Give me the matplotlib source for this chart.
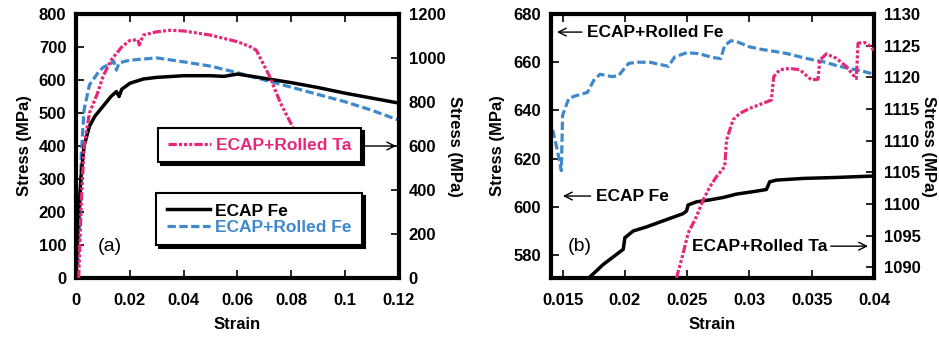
import matplotlib
matplotlib.use("Agg")
import matplotlib.pyplot as plt
from matplotlib.lines import Line2D

plt.rcParams['font.family'] = ['Liberation Sans', 'DejaVu Sans']
plt.rcParams['lines.scale_dashes'] = False

PINK = '#E5287A'
BLUE = '#3F88CB'

# ---------------- Panel (a) data ----------------
fe_a_strain = [0, 0.0005, 0.001, 0.002, 0.003, 0.005, 0.007, 0.010, 0.013, 0.015, 0.016, 0.017,
               0.020, 0.025, 0.030, 0.040, 0.050, 0.055, 0.060, 0.070, 0.080, 0.090, 0.100, 0.110, 0.120]
fe_a_stress = [0, 100, 200, 320, 400, 460, 490, 520, 550, 565, 550, 572,
               590, 603, 608, 613, 613, 611, 618, 605, 592, 577, 560, 545, 530]

rfe_a_strain = [0.0005, 0.0015, 0.002, 0.003, 0.005, 0.008, 0.010, 0.013, 0.014, 0.015, 0.016,
                0.020, 0.030, 0.040, 0.050, 0.060, 0.070, 0.080, 0.090, 0.100, 0.110, 0.120]
rfe_a_stress = [0, 200, 380, 509, 585, 620, 638, 650, 658, 630, 652,
                660, 667, 655, 642, 622, 600, 578, 556, 534, 508, 478]

ta_a_strain = [0.001, 0.0015, 0.002, 0.003, 0.005, 0.008, 0.010, 0.013, 0.017, 0.020, 0.023, 0.0235,
               0.025, 0.030, 0.035, 0.040, 0.050, 0.060, 0.065, 0.067, 0.072, 0.076, 0.0805, 0.084]
ta_a_stress = [0, 180, 354, 597, 750, 840, 915, 990, 1050, 1080, 1083, 1059,
               1104, 1119, 1126, 1123, 1104, 1074, 1050, 1035, 915, 794, 687, 590]

# ---------------- Panel (b) data ----------------
rfe_b_strain = [0.0142, 0.0146, 0.0149, 0.0150, 0.0155, 0.016, 0.017, 0.0175, 0.018, 0.019, 0.0195,
                0.0203, 0.021, 0.022, 0.0235, 0.024, 0.025, 0.026, 0.027, 0.0277, 0.028, 0.0285,
                0.029, 0.030, 0.031, 0.032, 0.033, 0.034, 0.035, 0.036, 0.037, 0.038, 0.039, 0.040]
rfe_b_stress = [632, 623, 615, 638, 645, 646, 647.5, 652.5, 655, 654, 654.5,
                659.5, 660, 660, 658.3, 662.2, 664, 663.5, 662, 661.5, 666.8, 668.9,
                668.5, 666.4, 665.3, 664.5, 663.6, 662.3, 661.1, 660.1, 658.6, 657.4, 656.4, 655]

fe_b_strain = [0.0170, 0.01826, 0.01933, 0.01987, 0.0200, 0.02067, 0.02174, 0.02307, 0.02468, 0.02495,
               0.02508, 0.02575, 0.02682, 0.02789, 0.02896, 0.03029, 0.03136, 0.03163, 0.03217,
               0.0343, 0.03698, 0.040]
fe_b_stress = [570, 576.1, 580.3, 582.4, 587.2, 590, 591.7, 594.2, 597.2, 598.3,
               600.8, 602.1, 602.9, 603.9, 605.3, 606.3, 607.2, 610.4, 611.1,
               611.8, 612.2, 612.8]

ta_b_strain = [0.02414, 0.02468, 0.02508, 0.02575, 0.02628, 0.02682, 0.02735, 0.02802, 0.02816,
               0.02869, 0.02922, 0.03003, 0.0311, 0.03176, 0.03195, 0.03243, 0.03324, 0.03404,
               0.03497, 0.03551, 0.03564, 0.03618, 0.03698, 0.03778, 0.03832, 0.03858, 0.03872,
               0.03925, 0.03979, 0.040]
ta_b_stress = [1088.3, 1092.2, 1095.4, 1098, 1100.6, 1102.7, 1104.3, 1105.9, 1110.1,
               1113.3, 1114.3, 1115.1, 1115.9, 1116.4, 1120.1, 1121.2, 1121.4, 1121.2,
               1119.6, 1119.7, 1122.7, 1123.7, 1123, 1121.7, 1120.4, 1119.8, 1125.4,
               1125.5, 1124.8, 1124.1]

xticks_a = [0, 0.02, 0.04, 0.06, 0.08, 0.1, 0.12]
xticklabels_a = ['0', '0.02', '0.04', '0.06', '0.08', '0.1', '0.12']
yticks_a_left = [0, 100, 200, 300, 400, 500, 600, 700, 800]
yticks_a_right = [0, 200, 400, 600, 800, 1000, 1200]
xticks_b = [0.015, 0.02, 0.025, 0.03, 0.035, 0.04]
xticklabels_b = ['0.015', '0.02', '0.025', '0.03', '0.035', '0.04']
yticks_b_left = [580, 600, 620, 640, 660, 680]
yticks_b_right = [1090, 1095, 1100, 1105, 1110, 1115, 1120, 1125, 1130]

labels = ['ECAP Fe', 'ECAP+Rolled Fe', 'ECAP+Rolled Ta']

W, H = 939, 339
fig = plt.figure(figsize=(W / 100, H / 100), dpi=100)

def px_axes(l, r, t, b):
    return fig.add_axes([l / W, (H - b) / H, (r - l) / W, (b - t) / H])

FS = 12
LFS = 12.5
TA_DASH = (0, (6, 1.5, 2.2, 1.5, 2.2, 1.5, 2.2, 1.5))
FE_DASH = (0, (6, 2.5))

def style_axes(ax, twin):
    for s in ax.spines.values():
        s.set_linewidth(3)
    ax.tick_params(axis='both', direction='in', length=6, width=1.2, labelsize=FS, pad=7)
    ax.tick_params(axis='x', top=True, pad=11)
    for lab in ax.get_xticklabels() + ax.get_yticklabels():
        lab.set_fontweight('bold')
    twin.tick_params(axis='y', direction='in', length=6, width=1.2, labelsize=FS, pad=7)
    for lab in twin.get_yticklabels():
        lab.set_fontweight('bold')

# ---------------- Panel (a) ----------------
axa = px_axes(76, 399, 14, 278)
axa2 = axa.twinx()
lb, = axa.plot(rfe_a_strain, rfe_a_stress, color=BLUE, lw=2.3, linestyle=FE_DASH, label=labels[1])
lk, = axa.plot(fe_a_strain, fe_a_stress, color='black', lw=2.5, label=labels[0])
lt, = axa2.plot(ta_a_strain, ta_a_stress, color=PINK, lw=2.3, linestyle=TA_DASH, label=labels[2])
axa.set_xlim(0, 0.12)
axa.set_ylim(0, 800)
axa2.set_ylim(0, 1200)
axa.set_xticks(xticks_a)
axa.set_xticklabels(xticklabels_a)
axa.set_yticks(yticks_a_left)
axa2.set_yticks(yticks_a_right)
style_axes(axa, axa2)
axa.set_xlabel('Strain', fontsize=FS, fontweight='bold', labelpad=6)
axa.set_ylabel('Stress (MPa)', fontsize=FS, fontweight='bold', labelpad=5)
axa2.set_ylabel('Stress (MPa)', fontsize=FS, fontweight='bold', rotation=270, labelpad=12)
axa.text(0.105, 0.12, '(a)', transform=axa.transAxes, fontsize=14, ha='center', va='center')

shadow = {'ox': 2.2, 'oy': -2.2, 'color': 'black', 'alpha': 1}
leg_fe = axa.legend(handles=[lk, lb], loc='upper left', bbox_to_anchor=(0.248, 0.322),
                    borderaxespad=0, frameon=True, fancybox=False, shadow=shadow,
                    edgecolor='black', framealpha=1, labelcolor='linecolor',
                    prop={'size': LFS, 'weight': 'bold'}, handlelength=2.5, handletextpad=0.3,
                    borderpad=0.6, labelspacing=0.05)
leg_fe.get_frame().set_linewidth(1.5)
leg_ta = axa2.legend(handles=[lt], loc='upper left', bbox_to_anchor=(0.254, 0.568),
                     borderaxespad=0, frameon=True, fancybox=False, shadow=shadow,
                     edgecolor='black', framealpha=1, labelcolor='linecolor',
                     prop={'size': LFS, 'weight': 'bold'}, handlelength=2.5, handletextpad=0.3,
                     borderpad=0.55)
leg_ta.get_frame().set_linewidth(1.5)
axa2.annotate('', xy=(0.12, 600), xytext=(0.1045, 600), xycoords='data',
              arrowprops=dict(arrowstyle='->', color='black', lw=1.0, mutation_scale=14))

# ---------------- Panel (b) ----------------
axb = px_axes(551, 874, 14, 278)
axb2 = axb.twinx()
axb.plot(rfe_b_strain, rfe_b_stress, color=BLUE, lw=2.3, linestyle=FE_DASH)
axb.plot(fe_b_strain, fe_b_stress, color='black', lw=2.5)
axb2.plot(ta_b_strain, ta_b_stress, color=PINK, lw=2.3, linestyle=TA_DASH)
axb.set_xlim(0.01407, 0.04)
axb.set_ylim(570.5, 680)
axb2.set_ylim(1088.3, 1130)
axb.set_xticks(xticks_b)
axb.set_xticklabels(xticklabels_b)
axb.set_yticks(yticks_b_left)
axb2.set_yticks(yticks_b_right)
style_axes(axb, axb2)
axb.set_xlabel('Strain', fontsize=FS, fontweight='bold', labelpad=6)
axb.set_ylabel('Stress (MPa)', fontsize=FS, fontweight='bold', labelpad=6)
axb2.set_ylabel('Stress (MPa)', fontsize=FS, fontweight='bold', rotation=270, labelpad=11)
axb.text(0.09, 0.12, '(b)', transform=axb.transAxes, fontsize=14, ha='center', va='center')

ann = dict(fontsize=LFS, fontweight='bold', va='center', ha='left')
arr = dict(arrowstyle='->', color='black', lw=1.0, mutation_scale=14, shrinkA=2, shrinkB=0)
axb.annotate(labels[1], xy=(0.01455, 672.5), xytext=(0.0170, 672.5), arrowprops=arr, **ann)
axb.annotate(labels[0], xy=(0.01503, 604.5), xytext=(0.0177, 604.5), arrowprops=arr, **ann)
axb.text(0.02539, 583.7, labels[2], **ann)
axb.annotate('', xy=(0.03952, 583.7), xytext=(0.03631, 583.7), arrowprops=arr)

fig.savefig('out.png', dpi=100)
